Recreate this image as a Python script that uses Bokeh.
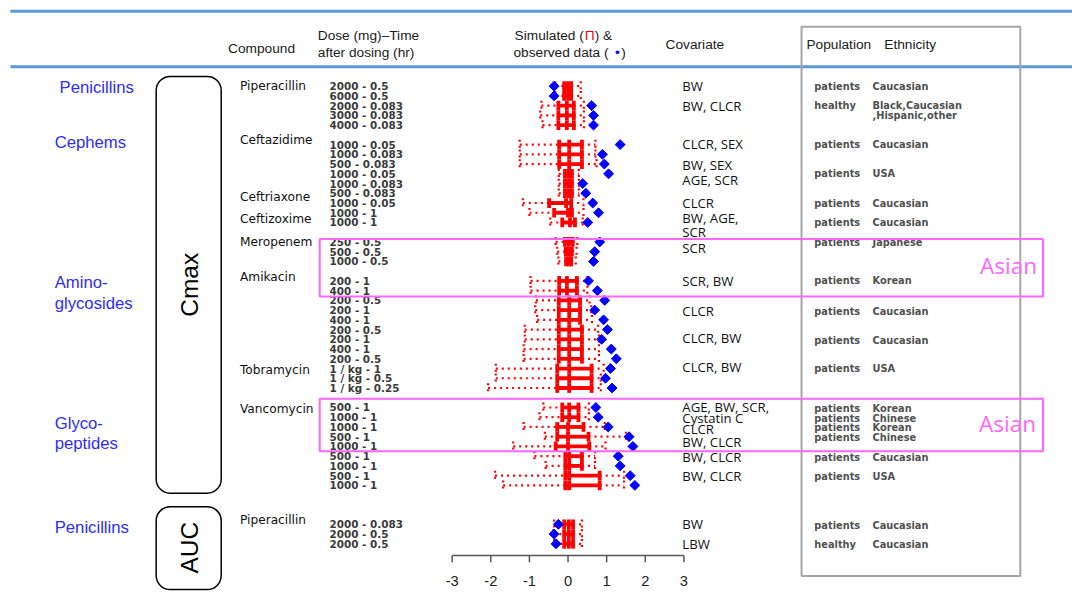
import math
import numpy as np
from bokeh.plotting import figure
from bokeh.models import Range1d, ColumnDataSource
from bokeh.embed import file_html
from bokeh.resources import INLINE
from bokeh.core.properties import value

# ---------------- data ----------------
classes = ["Penicillins", "Cephems", "Amino-\nglycosides", "Glyco-\npeptides", "Penicillins"]
metrics = ["Cmax", "AUC"]
compounds = ["Piperacillin", "Ceftazidime", "Ceftriaxone", "Ceftizoxime", "Meropenem",
             "Amikacin", "Tobramycin", "Vancomycin", "Piperacillin"]
compound_rows = [5, 5, 2, 2, 3, 9, 3, 9, 3]

dose_time = [
    "2000 - 0.5", "6000 - 0.5", "2000 - 0.083", "3000 - 0.083", "4000 - 0.083",
    "1000 - 0.05", "1000 - 0.083", "500 - 0.083", "1000 - 0.05", "1000 - 0.083",
    "500 - 0.083", "1000 - 0.05",
    "1000 - 1", "1000 - 1",
    "250 - 0.5", "500 - 0.5", "1000 - 0.5",
    "200 - 1", "400 - 1", "200 - 0.5", "200 - 1", "400 - 1", "200 - 0.5", "200 - 1", "400 - 1", "200 - 0.5",
    "1 / kg - 1", "1 / kg - 0.5", "1 / kg - 0.25",
    "500 - 1", "1000 - 1", "1000 - 1", "500 - 1", "1000 - 1", "500 - 1", "1000 - 1", "500 - 1", "1000 - 1",
    "2000 - 0.083", "2000 - 0.5", "2000 - 0.5",
]

sim_p05 = [-0.33, -0.33, -0.69, -0.72, -0.66,
           -1.25, -1.25, -1.25, -0.24, -0.24,
           -0.24, -1.17,
           -1.00, -0.46,
           -0.32, -0.28, -0.25,
           -0.97, -0.97, -0.83, -0.85, -0.80, -1.12, -1.12, -1.15, -1.15,
           -1.87, -1.87, -2.07,
           -0.64, -0.74, -1.15, -0.60, -1.42, -0.87, -0.58, -1.89, -1.68,
           -0.36, -0.38, -0.36]
sim_p25 = [-0.10, -0.10, -0.25, -0.25, -0.25,
           -0.23, -0.23, -0.23, -0.08, -0.08,
           -0.08, -0.49,
           -0.36, -0.15,
           -0.08, -0.06, -0.05,
           -0.23, -0.23, -0.24, -0.24, -0.24, -0.24, -0.24, -0.24, -0.24,
           -0.28, -0.28, -0.28,
           -0.15, -0.15, -0.28, -0.28, -0.32, -0.07, -0.07, -0.07, -0.07,
           -0.10, -0.10, -0.10]
sim_p50 = [0.00, 0.00, -0.03, -0.03, -0.03,
           0.03, 0.03, 0.03, 0.02, 0.02,
           0.02, -0.05,
           0.00, 0.05,
           0.02, 0.02, 0.02,
           -0.03, -0.03, 0.03, 0.03, 0.03, 0.03, 0.03, 0.03, 0.03,
           0.03, 0.03, 0.03,
           0.03, 0.03, 0.00, 0.00, 0.00, 0.03, 0.03, 0.03, 0.03,
           0.02, 0.02, 0.02]
sim_p75 = [0.08, 0.08, 0.15, 0.15, 0.15,
           0.36, 0.36, 0.36, 0.10, 0.10,
           0.10, 0.08,
           0.10, 0.18,
           0.12, 0.10, 0.08,
           0.23, 0.23, 0.31, 0.31, 0.31, 0.36, 0.36, 0.36, 0.36,
           0.61, 0.61, 0.61,
           0.27, 0.27, 0.40, 0.53, 0.55, 0.36, 0.36, 0.82, 0.82,
           0.13, 0.13, 0.13]
sim_p95 = [0.33, 0.33, 0.41, 0.41, 0.41,
           0.71, 0.71, 0.74, 0.28, 0.28,
           0.28, 0.40,
           0.40, 0.38,
           0.24, 0.22, 0.20,
           0.50, 0.50, 0.56, 0.60, 0.62, 0.78, 0.80, 0.80, 0.80,
           0.92, 0.85, 0.85,
           0.54, 0.54, 0.95, 1.50, 0.97, 0.70, 0.70, 1.45, 1.45,
           0.36, 0.36, 0.36]
observed = [-0.36, -0.36, 0.61, 0.66, 0.66,
            1.35, 0.89, 0.94, 1.05, 0.38,
            0.46, 0.64,
            0.79, 0.51,
            0.82, 0.69, 0.66,
            0.53, 0.76, 0.95, 0.69, 0.92, 1.02, 0.87, 1.12, 1.25,
            1.10, 0.97, 1.14,
            0.72, 0.78, 1.04, 1.58, 1.68, 1.30, 1.35, 1.61, 1.73,
            -0.25, -0.36, -0.31]

covariates = ["BW", "BW, CLCR", "CLCR, SEX", "BW, SEX", "AGE, SCR", "CLCR", "BW, AGE,", "SCR",
              "SCR", "SCR, BW", "CLCR", "CLCR, BW", "CLCR, BW",
              "AGE, BW, SCR,", "Cystatin C", "CLCR", "BW, CLCR", "BW, CLCR", "BW, CLCR",
              "BW", "LBW"]
population = ["patients", "healthy", "patients", "patients", "patients", "patients", "patients",
              "patients", "patients", "patients", "patients",
              "patients", "patients", "patients", "patients", "patients", "patients",
              "patients", "healthy"]
ethnicity = ["Caucasian", "Black,Caucasian\n,Hispanic,other", "Caucasian", "USA", "Caucasian",
             "Caucasian", "Japanese", "Korean", "Caucasian", "Caucasian", "USA",
             "Korean", "Chinese", "Korean", "Chinese", "Caucasian", "USA",
             "Caucasian", "Caucasian"]
axis_ticks = [-3, -2, -1, 0, 1, 2, 3]

# ---------------- layout (reference-pixel geometry, scaled into the figure) ----------------
W, H = 1072, 591
REF_W, REF_H = 1088, 607
FS = 0.98                       # font scale to follow the slight shrink
X0, UNIT = 576.0, 39.2          # reference x of value 0, px per unit
ROW0, ROWPX = 88.0, 10.0        # reference y of first row, px per row slot
def xd(px):
    return (px - X0) / UNIT
def yd(py):
    return (py - ROW0) / ROWPX
def fpx(size):
    return "%.1fpx" % (size * FS)

group_gap = [0, 1, 0, 0, 1, 1, 0, 1, 3]
label_shift = [0.0, -0.5, 0.4, 0.6, 0.0, -0.4, 0.1, 0.2, -0.4]
cov_slot = [0, 2, 5.95, 8.1, 9.6, 12, 13.55, 15.0,
            16.6, 20, 23.05, 25.9, 28.8,
            32.9, 34.1, 35.25, 36.5, 38.1, 40.0,
            45.0, 47.05]
pop_slot = [0, 2, 6, 9, 12, 14, 16.1, 20, 23.1, 26.1, 29,
            33.1, 34.1, 35.1, 36.1, 38.1, 40.1, 45.1, 47.1]
class_pos = [(60, [89]), (55, [146]), (55, [290, 311]), (55, [434, 455]), (55, [541])]

slots = []
first_slot = []
s = 0
for n, gap in zip(compound_rows, group_gap):
    s += gap
    first_slot.append(s)
    for _ in range(n):
        slots.append(s)
        s += 1
slots = np.array(slots, dtype=float)

p = figure(width=W, height=H, x_range=Range1d(xd(0), xd(REF_W)),
           y_range=Range1d(yd(REF_H), yd(0)), output_backend="svg",
           toolbar_location=None, min_border=0, outline_line_color=None,
           x_axis_location=None, y_axis_location=None)
p.grid.visible = False
p.background_fill_color = "white"
p.border_fill_color = "white"

RED = "#ff0000"
src = ColumnDataSource(dict(
    y=slots, ylo=slots - 0.5, yhi=slots + 0.5,
    p05=np.array(sim_p05), p25=np.array(sim_p25), p50=np.array(sim_p50),
    p75=np.array(sim_p75), p95=np.array(sim_p95), obs=np.array(observed)))

# dotted whiskers
for col in ["p05", "p95"]:
    p.segment(x0=col, y0="ylo", x1=col, y1="yhi", source=src, line_color=RED,
              line_width=2.2, line_dash="2 4")
p.segment(x0="p05", y0="y", x1="p25", y1="y", source=src, line_color=RED, line_width=2.2, line_dash="2 4")
p.segment(x0="p75", y0="y", x1="p95", y1="y", source=src, line_color=RED, line_width=2.2, line_dash="2 4")
# thick ladder
p.segment(x0="p25", y0="y", x1="p75", y1="y", source=src, line_color=RED, line_width=3.8)
for col in ["p25", "p50", "p75"]:
    p.segment(x0=col, y0="ylo", x1=col, y1="yhi", source=src, line_color=RED, line_width=3.8)
# observed (diamonds)
p.scatter(x="obs", y="y", source=src, marker="square", angle=math.pi / 4, size=7,
          fill_color="#0000ff", line_color="#0000ff")

def txt(xs, ys, texts, font="Liberation Sans", size=13, color="#000000", style="normal",
        align="left", baseline="middle", angle=0.0):
    p.text(x=list(xs), y=list(ys), text=list(texts), text_font=value(font),
           text_font_size=fpx(size), text_color=color, text_font_style=style,
           text_align=align, text_baseline=baseline, angle=angle)

# header rules
p.segment(x0=[xd(10), xd(10)], y0=[yd(11), yd(68)], x1=[xd(1088), xd(1088)], y1=[yd(11), yd(68)],
          line_color="#5b9bd5", line_width=3)

# header texts
HF = "Liberation Sans"
HC = "#1a1a1a"
txt([xd(231)], [yd(49)], ["Compound"], HF, 14, HC)
txt([xd(322), xd(322)], [yd(36), yd(53)], ["Dose (mg)\u2013Time", "after dosing (hr)"], HF, 14, HC)
txt([xd(592)], [yd(36)], ["Simulated ("], HF, 14, HC, align="right")
txt([xd(598)], [yd(36)], ["\u03a0"], HF, 14, RED, align="center")
txt([xd(603)], [yd(36)], [") &"], HF, 14, HC)
txt([xd(621)], [yd(53)], ["observed  data ("], HF, 14, HC, align="right")
txt([xd(626)], [yd(53)], ["\u2022"], HF, 14, "#0000ff", align="center")
txt([xd(630)], [yd(53)], [")"], HF, 14, HC)
txt([xd(675)], [yd(45)], ["Covariate"], HF, 14, HC)
txt([xd(818), xd(897)], [yd(45), yd(45)], ["Population", "Ethnicity"], HF, 14, HC)

# population box
p.quad(left=[xd(813)], right=[xd(1035)], top=[yd(27)], bottom=[yd(591)],
       fill_color=None, line_color="#a6a6a6", line_width=2)

# class labels (blue)
cx, cy, ct = [], [], []
for name, (xp, yps) in zip(classes, class_pos):
    for line, yp in zip(name.split("\n"), yps):
        cx.append(xd(xp)); cy.append(yd(yp)); ct.append(line)
txt(cx, cy, ct, "Liberation Sans", 17, "#2d2df5")

# metric boxes
p.quad(left=[xd(158), xd(158)], right=[xd(224), xd(224)], top=[yd(78), yd(520)],
       bottom=[yd(506), yd(605)], fill_color=None, line_color="#000000", line_width=1.5,
       border_radius=14)
txt([xd(192), xd(192)], [yd(292), yd(562)], metrics, "Liberation Sans", 25, "#000000",
    align="center", angle=math.pi / 2)

# compound labels
txt([xd(243)] * len(compounds), [fs + sh for fs, sh in zip(first_slot, label_shift)], compounds,
    "DejaVu Sans", 12.5, "#111111")
# dose-time labels
txt([xd(334)] * len(dose_time), slots, dose_time, "DejaVu Sans", 10.6, "#3a3a3a", style="bold")

# covariates
txt([xd(692)] * len(covariates), cov_slot, covariates, "Open Sans", 13.5, "#111111")

# population / ethnicity
txt([xd(826)] * len(population), pop_slot, population, "DejaVu Sans", 10, "#505050", style="bold")
ex, ey, et = [], [], []
for e, sl in zip(ethnicity, pop_slot):
    for k, line in enumerate(e.split("\n")):
        ex.append(xd(885)); ey.append(sl + k); et.append(line)
txt(ex, ey, et, "DejaVu Sans", 10, "#505050", style="bold")

# Asian boxes
MAG = "#ff66ff"
p.quad(left=[xd(324), xd(324)], right=[xd(1058), xd(1058)], top=[yd(245), yd(409)],
       bottom=[yd(304), yd(463)], fill_color=None, line_color=MAG, line_width=2)
txt([xd(1052), xd(1051)], [yd(272), yd(434)], ["Asian", "Asian"], "Open Sans", 23, MAG, align="right")

# manual x axis
ay = yd(570)
p.segment(x0=[axis_ticks[0]], y0=[ay], x1=[axis_ticks[-1]], y1=[ay], line_color="#555555", line_width=1.5)
p.segment(x0=axis_ticks, y0=[ay] * len(axis_ticks), x1=axis_ticks, y1=[yd(577)] * len(axis_ticks),
          line_color="#555555", line_width=1.5)
txt(axis_ticks, [yd(596)] * len(axis_ticks), [str(t) for t in axis_ticks], "Liberation Sans", 15,
    "#222222", align="center")

open("out.html", "w").write(file_html(p, INLINE))
